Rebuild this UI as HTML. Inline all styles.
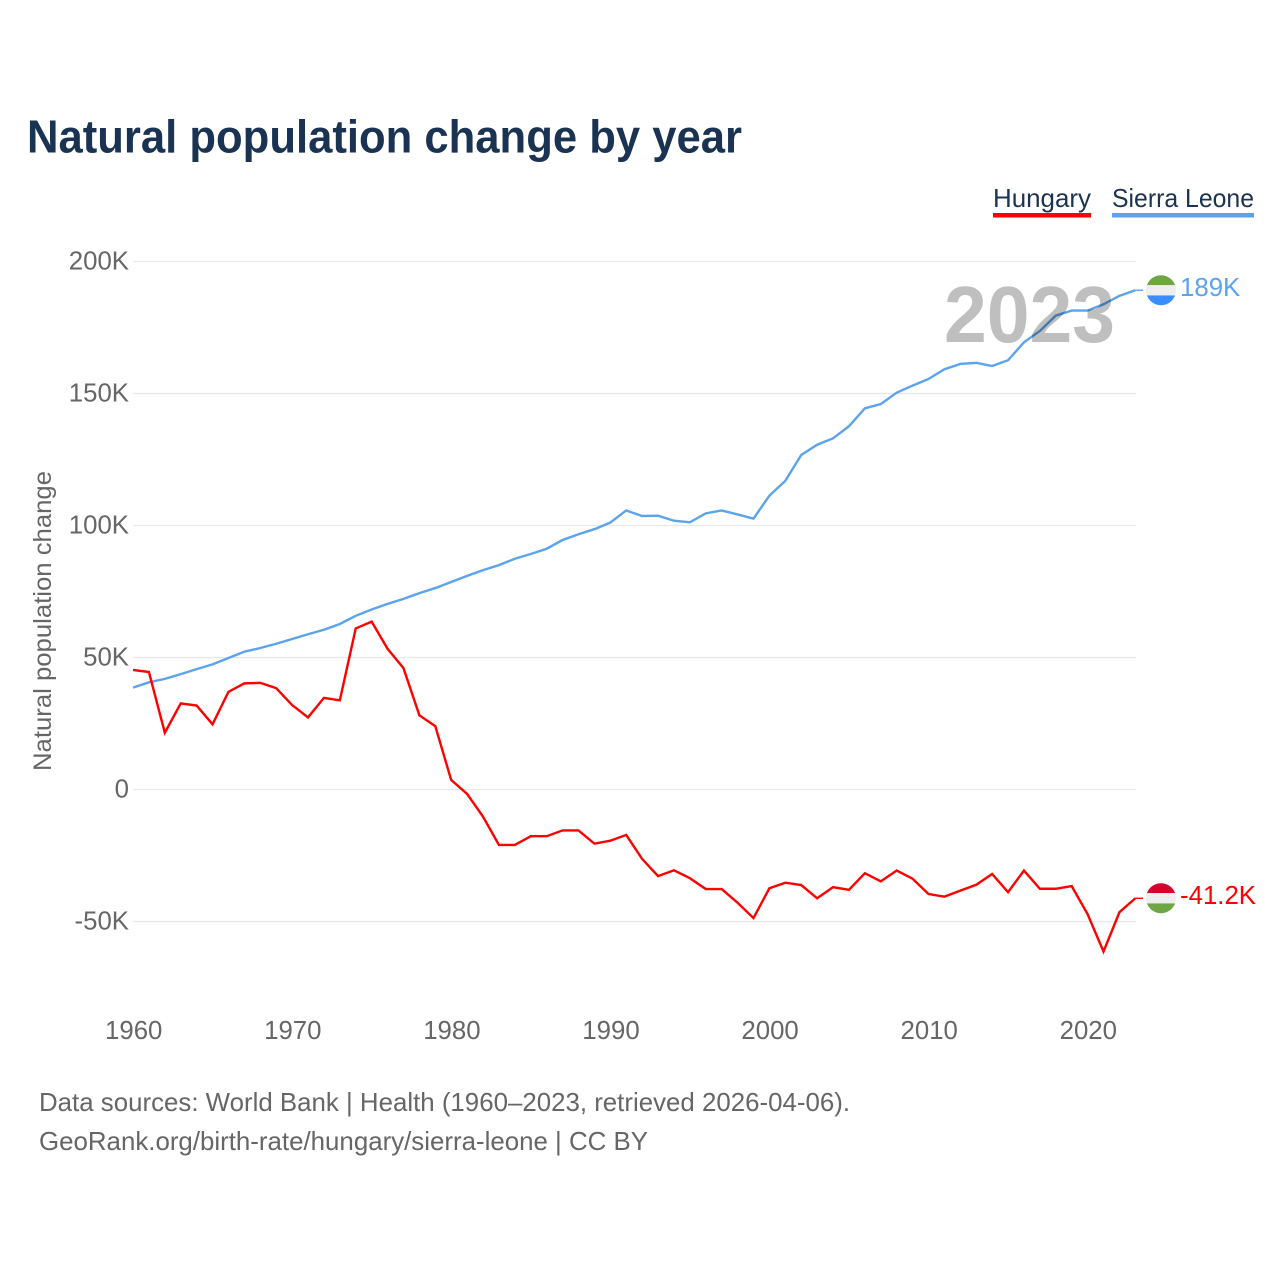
<!DOCTYPE html>
<html lang="en">
<head>
<meta charset="utf-8">
<title>Natural population change by year</title>
<style>
html,body{margin:0;padding:0;background:#fff;width:1280px;height:1280px;overflow:hidden}
svg{display:block;font-family:"Liberation Sans",sans-serif}
.tick{font-size:25.8px;fill:#666}
.foot{font-size:26px;fill:#666}
</style>
</head>
<body>
<svg id="chart" width="1280" height="1280" viewBox="0 0 1280 1280" xmlns="http://www.w3.org/2000/svg">
  <rect x="0" y="0" width="1280" height="1280" fill="#fff"/>
  <text x="27" y="152.5" font-size="46" font-weight="700" fill="#1a3353" textLength="715" lengthAdjust="spacingAndGlyphs">Natural population change by year</text>

  <g>
    <text x="993" y="207" font-size="26" fill="#1a3353" textLength="98" lengthAdjust="spacingAndGlyphs">Hungary</text>
    <rect x="993" y="213" width="98" height="4.5" fill="#ff0000"/>
  </g>
  <g>
    <text x="1112" y="207" font-size="26" fill="#1a3353" textLength="142" lengthAdjust="spacingAndGlyphs">Sierra Leone</text>
    <rect x="1112" y="213" width="142" height="4.5" fill="#5ba3ec"/>
  </g>

  <text transform="translate(51,771) rotate(-90)" font-size="25" fill="#666" textLength="300" lengthAdjust="spacingAndGlyphs">Natural population change</text>

  <g id="grid"></g>
  <g id="yticks"></g>
  <g id="xticks"></g>
  <g id="series"></g>

  <text id="year" x="944" y="342" font-size="80" font-weight="700" fill="#bfbfbf" textLength="171" lengthAdjust="spacingAndGlyphs" style="mix-blend-mode:multiply">2023</text>

  <defs>
    <clipPath id="flag-clip"><circle cx="0" cy="0" r="15"/></clipPath>
  </defs>
  <g id="ends"></g>

  <text class="foot" x="39" y="1111" textLength="811" lengthAdjust="spacingAndGlyphs">Data sources: World Bank | Health (1960–2023, retrieved 2026-04-06).</text>
  <text class="foot" x="39" y="1150" textLength="609" lengthAdjust="spacingAndGlyphs">GeoRank.org/birth-rate/hungary/sierra-leone | CC BY</text>
</svg>
<script>
const firstYear = 1960;
const hungaryValues = [45.3,44.5,21.5,32.6,31.8,24.7,37,40.2,40.4,38.4,32,27.3,34.7,33.8,61,63.6,53.3,46,28.1,24,3.6,-1.7,-10.3,-21,-21,-17.7,-17.7,-15.5,-15.5,-20.5,-19.4,-17.2,-26.3,-32.8,-30.6,-33.6,-37.7,-37.7,-42.9,-48.7,-37.4,-35.3,-36.2,-41.2,-37,-38,-31.7,-34.8,-30.7,-33.8,-39.6,-40.6,-38.3,-36.1,-32,-38.9,-30.7,-37.6,-37.6,-36.6,-47.2,-61.4,-46.5,-41.2];
const sierraLeoneValues = [38.6,40.6,41.9,43.7,45.6,47.4,49.8,52.2,53.6,55.2,57,58.8,60.5,62.7,65.8,68.2,70.3,72.2,74.4,76.3,78.6,80.9,83.1,85,87.4,89.2,91.2,94.5,96.7,98.6,101.1,105.7,103.6,103.7,101.8,101.2,104.6,105.7,104.2,102.6,111.3,116.9,126.7,130.6,133,137.6,144.4,146,150.3,153,155.5,159.2,161.2,161.6,160.4,162.6,169.4,173.7,179.5,181.4,181.4,183.8,187,189.1];
const yTickValues = [200,150,100,50,0,-50];
const yTickLabels = ["200K","150K","100K","50K","0","-50K"];
const xTickValues = [1960,1970,1980,1990,2000,2010,2020];
const hungaryEndLabel = "-41.2K";
const sierraLeoneEndLabel = "189K";

const NS = "http://www.w3.org/2000/svg";
function xScale(year){ return 133 + (year - 1960) * 15.91; }
function yScale(v){ return 789.5 - v * 2.64; }
function make(tag, attrs, parent){
  const el = document.createElementNS(NS, tag);
  for (const k in attrs) el.setAttribute(k, attrs[k]);
  parent.appendChild(el);
  return el;
}
const gridG = document.getElementById("grid");
const yG = document.getElementById("yticks");
const xG = document.getElementById("xticks");
const seriesG = document.getElementById("series");
const endsG = document.getElementById("ends");

yTickValues.forEach(function(v, i){
  const line = make("line", {x1:133, x2:1136, y1:yScale(v), y2:yScale(v), stroke:"#e8e8e8", "stroke-width":1.2}, gridG);
  
  
  const t = make("text", {x:129, y:yScale(v)+8, "text-anchor":"end", class:"tick"}, yG);
  
  
  t.textContent = yTickLabels[i];
});
xTickValues.forEach(function(y){
  const t = make("text", {x:xScale(y)+0.7, y:1039, "text-anchor":"middle", class:"tick"}, xG);
  
  
  t.textContent = y;
});

function drawSeries(values, color, name){
  const d = values.map(function(v, i){
    return (i ? "L" : "M") + xScale(firstYear + i).toFixed(2) + " " + yScale(v).toFixed(2);
  }).join(" ");
  const p = make("path", {d:d, fill:"none", stroke:color, "stroke-width":2.4, "stroke-linejoin":"miter", "stroke-miterlimit":6}, seriesG);
  
  
}
drawSeries(sierraLeoneValues, "#5ba3ec", "series-line-sierra-leone");
drawSeries(hungaryValues, "#ff0000", "series-line-hungary");

function drawEnd(values, color, stripes, label, prefix){
  const last = values[values.length - 1];
  const ly = yScale(last);
  const x0 = xScale(firstYear + values.length - 1);
  const c = make("line", {x1:x0, x2:1143, y1:ly, y2:ly, stroke:color, "stroke-width":1.4}, endsG);
  
  
  const g = make("g", {transform:"translate(1161 " + ly + ")", "clip-path":"url(#flag-clip)"}, endsG);
  
  
  stripes.forEach(function(col, i){
    make("rect", {x:-16, y:-15.5 + i * 10.33, width:32, height:10.5, fill:col}, g);
  });
  const t = make("text", {x:1180, y:ly + 5.7, "font-size":25.8, fill:color}, endsG);
  
  
  t.textContent = label;
}
drawEnd(sierraLeoneValues, "#5ba3ec", ["#6fa644","#eeeeee","#3a8dfc"], sierraLeoneEndLabel, "sierra-leone");
drawEnd(hungaryValues, "#ff0000", ["#d6002a","#eeeeee","#6fa644"], hungaryEndLabel, "hungary");
</script>
</body>
</html>
